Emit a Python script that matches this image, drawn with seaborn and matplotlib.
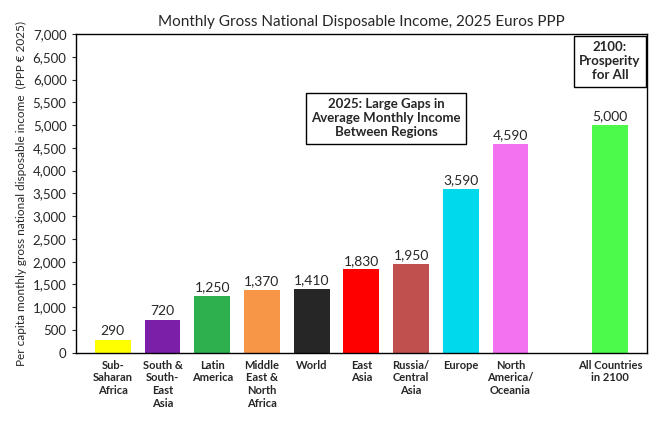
import matplotlib
matplotlib.use("Agg")
import matplotlib.pyplot as plt
import seaborn as sns
import pandas as pd

regions = ["Sub-\nSaharan\nAfrica", "South &\nSouth-\nEast\nAsia", "Latin\nAmerica",
           "Middle\nEast &\nNorth\nAfrica", "World", "East\nAsia", "Russia/\nCentral\nAsia",
           "Europe", "North\nAmerica/\nOceania", " ", "All Countries\nin 2100"]
income = [290, 720, 1250, 1370, 1410, 1830, 1950, 3590, 4590, None, 5000]
colors = ["#ffff00", "#7b1fa8", "#2eb04e", "#f79646", "#262626", "#ff0000",
          "#c0504d", "#00d8ec", "#f272f0", "#ffffff", "#4cfa4c"]

sns.set_style("white")
plt.rcParams["font.family"] = ["Lato", "DejaVu Sans"]

df = pd.DataFrame({"region": regions, "income": income}).dropna()
fig, ax = plt.subplots(figsize=(6.57, 4.25), dpi=100)
sns.barplot(data=df, x="region", y="income", order=regions, hue="region",
            palette=dict(zip(regions, colors)), legend=False, width=0.72,
            saturation=1, edgecolor="none", ax=ax)

for i, v in enumerate(income):
    if v is not None:
        ax.text(i, v + 60, f"{v:,}", ha="center", va="bottom", fontsize=10)

ax.set_ylim(0, 7000)
ax.set_xlim(-0.75, 10.75)
ax.set_yticks(range(0, 7001, 500))
ax.set_yticklabels([f"{t:,}" for t in range(0, 7001, 500)], fontsize=9.5)
ax.set_xticks(range(len(regions)))
ax.set_xticklabels(regions, fontsize=8, fontweight="bold", va="top")
ax.tick_params(axis="x", length=0, pad=5)
ax.tick_params(axis="y", length=3, left=True)
ax.set_xlabel("")
ax.set_ylabel("Per capita monthly gross national disposable income  (PPP € 2025)", fontsize=8.5)
ax.set_title("Monthly Gross National Disposable Income, 2025 Euros PPP", fontsize=11, pad=6)
for s in ax.spines.values():
    s.set_color("black")
    s.set_linewidth(1)

ax.text(5.5, 5150, "2025: Large Gaps in\nAverage Monthly Income\nBetween Regions", ha="center",
        va="center", fontsize=9.5, fontweight="bold",
        bbox=dict(boxstyle="square,pad=0.4", fc="white", ec="black", lw=1))
ax.text(10, 6400, "2100:\nProsperity\nfor All", ha="center", va="center", fontsize=9.5,
        fontweight="bold", bbox=dict(boxstyle="square,pad=0.4", fc="white", ec="black", lw=1))

fig.subplots_adjust(left=0.115, right=0.985, top=0.92, bottom=0.17)
fig.savefig("out.png", dpi=100)
